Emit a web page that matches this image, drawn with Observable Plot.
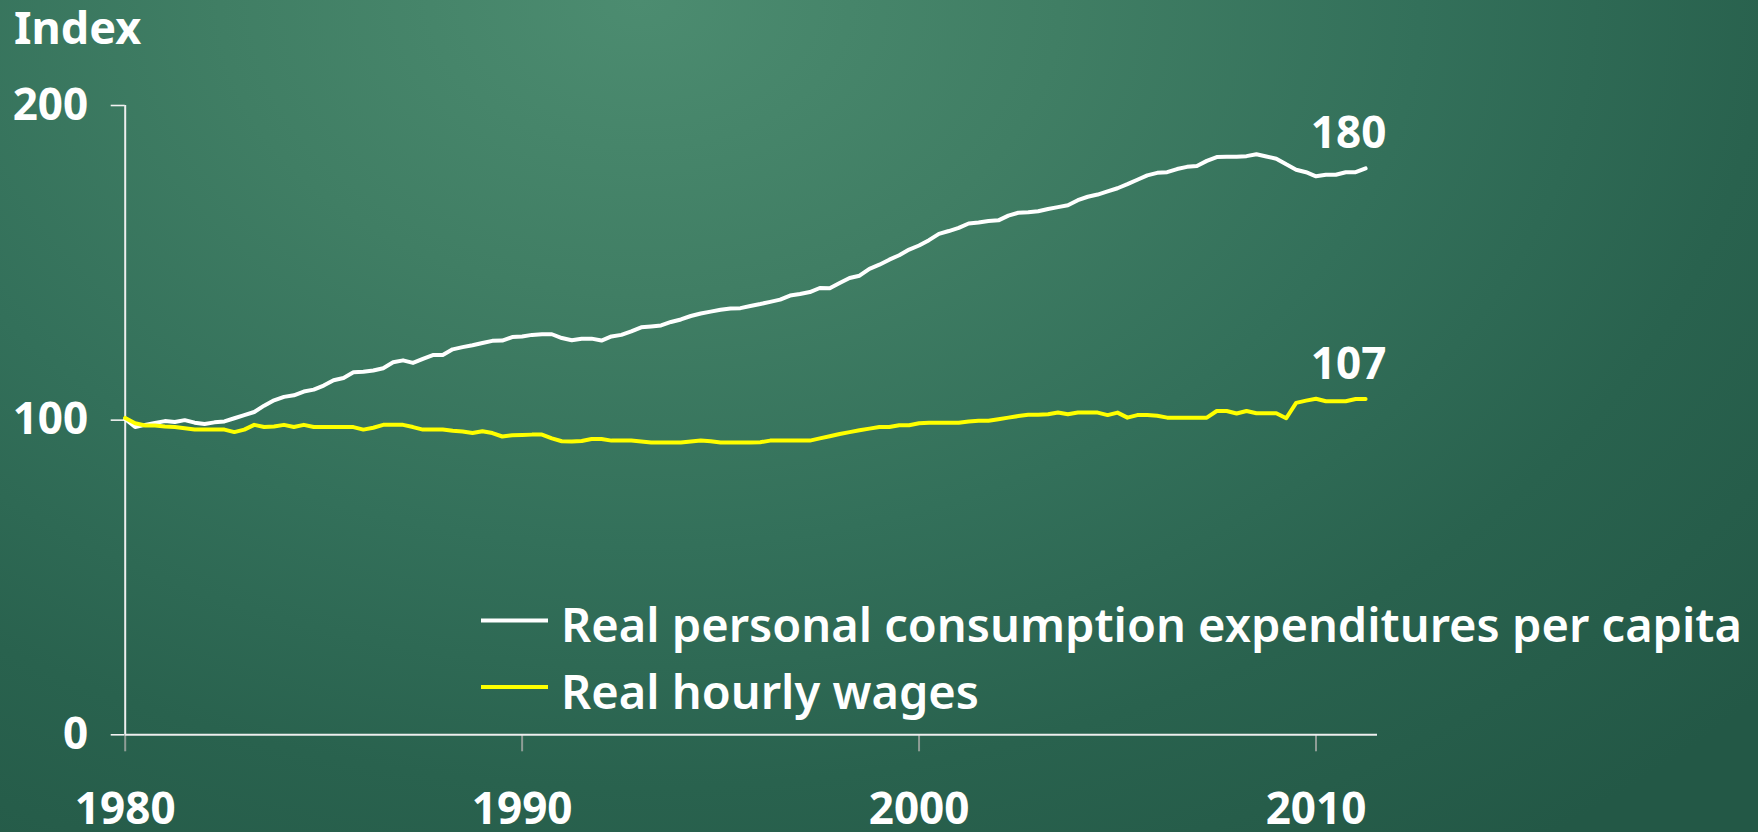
<!DOCTYPE html>
<html><head><meta charset="utf-8">
<script src="https://cdn.jsdelivr.net/npm/d3@7"></script>
<script src="https://cdn.jsdelivr.net/npm/@observablehq/plot@0.6"></script>
<style>
html,body{margin:0;padding:0;}
body{width:1758px;height:832px;overflow:hidden;position:relative;
background: radial-gradient(ellipse 1500px 1050px at 640px 0px, #4c8c70 0%, #407e64 28%, #33705a 52%, #29624e 75%, #235846 100%);
font-family:"Noto Sans", sans-serif;}
#chart{position:absolute;left:0;top:0;}
#overlay{position:absolute;left:0;top:0;pointer-events:none;}
</style></head><body>
<div id="chart"></div>
<svg id="overlay" width="1758" height="832"></svg>
<script>
// Quarterly index values, 1980 Q1 = first value
const startYear = 1980;
const quartersPerYear = 4;

const pce = [
  100.4, 97.8, 98.5, 99.1,
  99.7, 99.4, 100.0, 99.2,
  98.8, 99.3, 99.6, 100.6,
  101.6, 102.6, 104.6, 106.3,
  107.4, 107.9, 109.1, 109.7,
  111.0, 112.7, 113.4, 115.2,
  115.4, 115.8, 116.5, 118.4,
  119.0, 118.2, 119.5, 120.7,
  120.7, 122.5, 123.2, 123.8,
  124.5, 125.2, 125.3, 126.4,
  126.6, 127.1, 127.3, 127.3,
  126.1, 125.4, 125.9, 125.9,
  125.3, 126.6, 127.1, 128.2,
  129.5, 129.8, 130.1, 131.2,
  132.0, 133.1, 133.9, 134.5,
  135.1, 135.5, 135.6, 136.3,
  136.9, 137.6, 138.3, 139.6,
  140.1, 140.7, 142.0, 141.9,
  143.6, 145.2, 145.9, 148.1,
  149.4, 151.0, 152.4, 154.2,
  155.5, 157.2, 159.2, 160.1,
  161.1, 162.5, 162.8, 163.3,
  163.5, 165.0, 165.9, 166.1,
  166.4, 167.1, 167.7, 168.3,
  169.9, 171.0, 171.7, 172.7,
  173.7, 175.0, 176.4, 177.8,
  178.6, 178.8, 179.8, 180.5,
  180.8, 182.4, 183.6, 183.7,
  183.7, 183.9, 184.5, 183.8,
  183.1, 181.3, 179.6, 178.8,
  177.5, 178.0, 178.0, 178.8,
  178.8, 180.0
];

const wages = [
  100.7, 99.0, 98.3, 98.3,
  98.0, 97.8, 97.4, 97.0,
  97.0, 97.0, 97.0, 96.2,
  97.0, 98.5, 97.8, 98.0,
  98.5, 97.8, 98.5, 97.8,
  97.8, 97.8, 97.8, 97.8,
  97.0, 97.6, 98.5, 98.5,
  98.5, 97.8, 97.0, 97.0,
  97.0, 96.6, 96.4, 95.9,
  96.5, 95.9, 94.8, 95.2,
  95.3, 95.4, 95.4, 94.2,
  93.3, 93.2, 93.4, 94.0,
  94.0, 93.5, 93.5, 93.5,
  93.2, 92.9, 92.9, 92.9,
  92.9, 93.2, 93.5, 93.3,
  92.9, 92.9, 92.9, 92.9,
  93.0, 93.5, 93.5, 93.5,
  93.5, 93.5, 94.2, 94.9,
  95.6, 96.2, 96.8, 97.3,
  97.8, 97.8, 98.4, 98.4,
  99.0, 99.2, 99.2, 99.2,
  99.2, 99.6, 99.8, 99.8,
  100.3, 100.8, 101.3, 101.7,
  101.7, 101.9, 102.4, 101.9,
  102.4, 102.4, 102.4, 101.6,
  102.4, 100.8, 101.6, 101.6,
  101.4, 100.8, 100.8, 100.8,
  100.8, 100.8, 102.9, 102.9,
  102.1, 102.9, 102.2, 102.2,
  102.2, 100.6, 105.5, 106.2,
  106.8, 106.0, 106.0, 106.0,
  106.7, 106.7
];

const seriesNames = ["Real personal consumption expenditures per capita", "Real hourly wages"];
const seriesColors = ["#ffffff", "#ffff00"];
const endLabels = ["180", "107"];
const xTicks = [1980, 1990, 2000, 2010];
const yTicks = [0, 100, 200];
const yLabel = "Index";

const seriesValues = [pce, wages];
const series = seriesNames.map((name, k) => ({
  name, color: seriesColors[k], label: endLabels[k],
  rows: seriesValues[k].map((v, i) => ({year: startYear + i / quartersPerYear, value: v}))
}));
const lastPoints = series.map(s => ({...s.rows[s.rows.length - 1], label: s.label}));

const font = "'Noto Sans', sans-serif";

const chart = Plot.plot({
  width: 1758, height: 832,
  marginLeft: 124.7, marginRight: 381, marginTop: 105, marginBottom: 97.7,
  x: {domain: [1980, 2011.55]},
  y: {domain: [0, 200]},
  style: {background: "transparent", color: "white", fontFamily: font, overflow: "visible"},
  marks: [
    Plot.axisY({ticks: yTicks, tickSize: 14, tickPadding: 23, stroke: "#f2f2f2", strokeWidth: 1.6, fill: "white",
      fontSize: 44, fontWeight: 700, tickFormat: d => String(d), label: null}),
    Plot.axisX({ticks: xTicks, tickSize: 17, tickPadding: 41, stroke: "#8f9d96", strokeWidth: 2, fill: "white",
      fontSize: 44, fontWeight: 700, tickFormat: d => String(d), label: null}),
    Plot.ruleY([0], {stroke: "#eeeeee", strokeWidth: 2}),
    Plot.ruleX([1980], {y1: 0, y2: 200, stroke: "#eeeeee", strokeWidth: 2}),
    ...series.map(s => Plot.line(s.rows, {x: "year", y: "value", stroke: s.color, strokeWidth: 4})),
    Plot.text(lastPoints, {x: "year", y: "value", text: "label", dx: -17, dy: -20, lineAnchor: "bottom",
      fontSize: 44, fontWeight: 700, fill: "white"})
  ]
});
document.getElementById("chart").appendChild(chart);

// Title and legend overlay
const ov = d3.select("#overlay");
ov.append("text").attr("x", 14).attr("y", 43.5).attr("fill", "white")
  .attr("font-family", font).attr("font-size", 45).attr("font-weight", 700).text(yLabel);
const legendRows = [{ly: 620.5, ty: 641.5}, {ly: 687, ty: 708.5}];
series.forEach((s, k) => {
  const r = legendRows[k];
  ov.append("line").attr("x1", 481).attr("x2", 548).attr("y1", r.ly).attr("y2", r.ly)
    .attr("stroke", s.color).attr("stroke-width", 4);
  ov.append("text").attr("x", 561).attr("y", r.ty).attr("fill", "white")
    .attr("font-family", font).attr("font-size", 47).attr("font-weight", 600).text(s.name);
});
</script></body></html>
